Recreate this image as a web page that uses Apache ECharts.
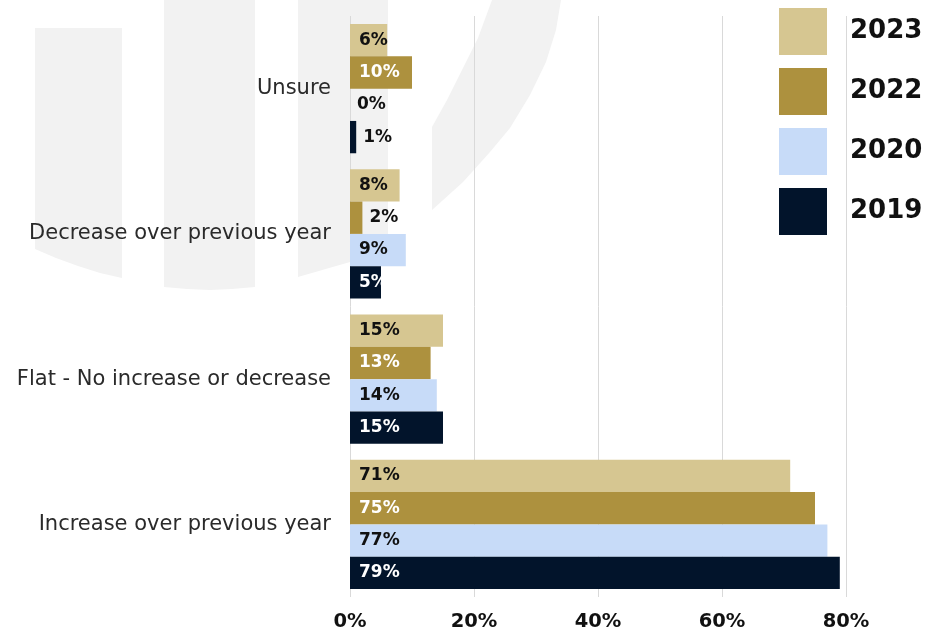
<!DOCTYPE html>
<html>
<head>
<meta charset="utf-8">
<script src="https://cdn.jsdelivr.net/npm/echarts@6/dist/echarts.min.js"></script>
<style>
  html, body { margin: 0; padding: 0; background: #ffffff; }
  #chart { width: 932px; height: 634px; }
</style>
</head>
<body>
<div id="chart"></div>
<script>
// Survey categories, listed top to bottom
const categories = [
  'Unsure',
  'Decrease over previous year',
  'Flat - No increase or decrease',
  'Increase over previous year'
];
// Survey years, in legend order
const years = ['2023', '2022', '2020', '2019'];
// Share of respondents (%) per category, one array per year
const values2023 = [6, 8, 15, 71];
const values2022 = [10, 2, 13, 75];
const values2020 = [0, 9, 14, 77];
const values2019 = [1, 5, 15, 79];
// Value axis ticks (%)
const xTicks = [0, 20, 40, 60, 80];

const FONT = '"DejaVu Sans", sans-serif';
const TEXT = '#111111';

const palette = {
  '2023': { bar: '#d6c691', label: TEXT },
  '2022': { bar: '#ad913e', label: '#ffffff' },
  '2020': { bar: '#c7dbf8', label: TEXT },
  '2019': { bar: '#02142b', label: '#ffffff' }
};

function makeSeries(name, values) {
  const p = palette[name];
  return {
    name: name,
    type: 'bar',
    barGap: '0%',
    barCategoryGap: '11%',
    itemStyle: { color: p.bar },
    label: {
      show: true,
      position: 'insideLeft',
      distance: 9,
      formatter: '{c}%',
      color: p.label,
      fontFamily: FONT,
      fontSize: 17,
      fontWeight: 'bold'
    },
    data: values.map(function (v) {
      // very short bars carry their label just past the bar end
      return v < 3
        ? { value: v, label: { position: 'right', distance: 7, color: TEXT } }
        : { value: v };
    })
  };
}

// faint logo shapes drawn behind the plot
const logoShapes = [
  [[35, 28], [122, 28], [122, 278], [100, 273], [78, 266], [56, 258], [35, 249]],
  [[164, 0], [255, 0], [255, 287], [232, 289], [210, 290], [187, 289], [164, 287]],
  [[298, 0], [388, 0], [388, 240], [350, 262], [298, 277]],
  [[492, 0], [561, 0], [556, 30], [546, 62], [530, 95], [510, 128], [490, 152], [463, 182], [432, 210], [432, 127], [447, 100], [462, 70], [478, 38]]
];

const chart = echarts.init(document.getElementById('chart'), null, { renderer: 'canvas' });

chart.setOption({
  backgroundColor: '#ffffff',
  animation: false,
  graphic: logoShapes.map(function (pts) {
    return {
      type: 'polygon',
      z: -10,
      silent: true,
      shape: { points: pts },
      style: { fill: '#f2f2f2' }
    };
  }),
  legend: {
    data: years,
    orient: 'vertical',
    left: 779,
    top: 8,
    padding: 0,
    icon: 'rect',
    itemWidth: 48,
    itemHeight: 47,
    itemGap: 13,
    selectedMode: false,
    textStyle: {
      fontFamily: FONT,
      fontSize: 26,
      fontWeight: 'bold',
      color: TEXT,
      padding: [0, 0, 0, 18]
    }
  },
  grid: { left: 350, right: 86, top: 16, bottom: 37, containLabel: false },
  xAxis: {
    type: 'value',
    min: xTicks[0],
    max: xTicks[xTicks.length - 1],
    interval: xTicks[1] - xTicks[0],
    axisLine: { show: false },
    axisTick: { show: false },
    splitLine: { show: true, lineStyle: { color: '#d9d9d9', width: 1 } },
    axisLabel: {
      formatter: '{value}%',
      margin: 15,
      fontFamily: FONT,
      fontSize: 19.5,
      fontWeight: 'bold',
      color: TEXT
    }
  },
  yAxis: {
    type: 'category',
    data: categories,
    inverse: true,
    axisLine: { show: false },
    axisTick: { show: false },
    splitLine: { show: false },
    axisLabel: {
      margin: 19,
      fontFamily: FONT,
      fontSize: 21,
      color: '#2a2a2a'
    }
  },
  series: [
    makeSeries('2023', values2023),
    makeSeries('2022', values2022),
    makeSeries('2020', values2020),
    makeSeries('2019', values2019)
  ]
});
</script>
</body>
</html>
